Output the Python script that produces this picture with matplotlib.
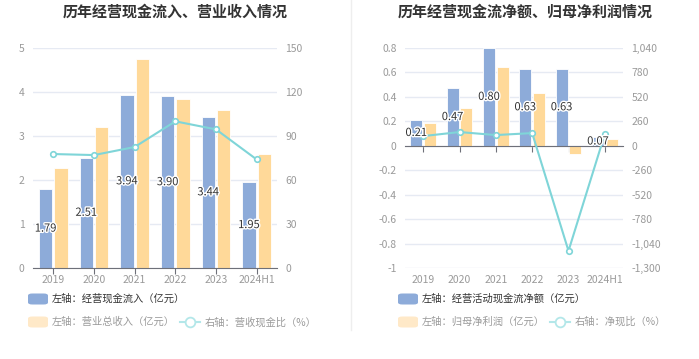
import matplotlib
matplotlib.use("Agg")
import matplotlib.pyplot as plt
import matplotlib.patheffects as pe
from matplotlib.patches import FancyBboxPatch
from matplotlib.lines import Line2D
import numpy as np

plt.rcParams['font.family'] = ['Noto Sans CJK SC', 'DejaVu Sans']

years = ["2019", "2020", "2021", "2022", "2023", "2024H1"]

# left chart
cash_in = [1.79, 2.51, 3.94, 3.90, 3.44, 1.95]
revenue = [2.27, 3.21, 4.74, 3.85, 3.60, 2.59]
cash_rev_ratio = [77.7, 77.0, 82.5, 100.0, 94.5, 74.0]
left_yticks = [0, 1, 2, 3, 4, 5]
left_y2ticks = [0, 30, 60, 90, 120, 150]

# right chart
net_cash = [0.21, 0.47, 0.80, 0.63, 0.63, 0.07]
net_profit = [0.186, 0.306, 0.645, 0.434, -0.066, 0.057]
net_cash_ratio = [103, 146, 114, 135, -1118, 125]
right_yticks = [-1, -0.8, -0.6, -0.4, -0.2, 0, 0.2, 0.4, 0.6, 0.8]
right_yticklabels = ["-1", "-0.8", "-0.6", "-0.4", "-0.2", "0", "0.2", "0.4", "0.6", "0.8"]
right_y2ticks = [-1300, -1040, -780, -520, -260, 0, 260, 520, 780, 1040]
right_y2ticklabels = ["-1,300", "-1,040", "-780", "-520", "-260", "0", "260", "520", "780", "1,040"]

titles = ["历年经营现金流入、营业收入情况", "历年经营现金流净额、归母净利润情况"]
legend_left = ["左轴：经营现金流入（亿元）", "左轴：营业总收入（亿元）", "右轴：营收现金比（%）"]
legend_right = ["左轴：经营活动现金流净额（亿元）", "左轴：归母净利润（亿元）", "右轴：净现比（%）"]

BLUE = "#8dabd9"
ORANGE = "#ffd999"
TEAL = "#7fd5d8"
GRID = "#e6eaf3"
TICK = "#9a9a9a"
AXIS = "#6e7079"

W, H = 699, 359
fig = plt.figure(figsize=(W / 100, H / 100), dpi=100)


def make_ax(x0, x1, y0, y1):
    return fig.add_axes([x0 / W, 1 - y1 / H, (x1 - x0) / W, (y1 - y0) / H])


def style(ax, ax2, yticks, ylabels, y2ticks, y2labels, ylim, y2lim):
    ax.set_ylim(*ylim)
    ax2.set_ylim(*y2lim)
    ax.set_yticks(yticks)
    ax.set_yticklabels(ylabels)
    ax2.set_yticks(y2ticks)
    ax2.set_yticklabels(y2labels)
    for a in (ax, ax2):
        for s in ("top", "left", "right"):
            a.spines[s].set_visible(False)
        a.tick_params(axis="y", length=0, labelsize=7.5, labelcolor=TICK, pad=6)
    ax2.spines["bottom"].set_visible(False)
    ax.grid(axis="y", color=GRID, linewidth=1)
    ax.set_axisbelow(True)
    ax.spines["bottom"].set_position(("data", 0))
    ax.spines["bottom"].set_color(AXIS)
    ax.set_xlim(-0.5, len(years) - 0.5)
    ax.set_xticks(range(len(years)))
    ax.tick_params(axis="x", length=4, color=AXIS, labelbottom=False)
    for i, y in enumerate(years):
        ax.text(i, -0.03, y, transform=ax.get_xaxis_transform(), ha="center", va="top",
                fontsize=7.5, color=TICK)


def draw(ax, ax2, blue, orange, ratio):
    x = np.arange(len(years))
    w = 0.33
    ax.bar(x - 0.19, blue, width=w, color=BLUE, edgecolor="white", linewidth=0.6, zorder=2)
    ax.bar(x + 0.19, orange, width=w, color=ORANGE, edgecolor="white", linewidth=0.6, zorder=2)
    ax2.plot(x, ratio, color=TEAL, linewidth=1.5, marker="o",
             markersize=4, markerfacecolor="white", markeredgecolor=TEAL,
             markeredgewidth=1.2, zorder=3)
    for i, v in enumerate(blue):
        ax2.text(i - 0.19, v / 2, f"{v:.2f}", ha="center", va="center", fontsize=8,
                 color="#333333", zorder=5, transform=ax.transData,
                 path_effects=[pe.withStroke(linewidth=2, foreground="white")])


def legend(x0, texts):
    y1, y2 = 299, 322
    p = FancyBboxPatch((x0 / W, 1 - (y1 + 5.5) / H), 20 / W, 11 / H,
                       boxstyle="round,pad=0,rounding_size=0.006", transform=fig.transFigure,
                       facecolor=BLUE, edgecolor="none")
    fig.add_artist(p)
    fig.text((x0 + 24) / W, 1 - y1 / H, texts[0], fontsize=7.4, color="#333333", va="center")
    p = FancyBboxPatch((x0 / W, 1 - (y2 + 5.5) / H), 20 / W, 11 / H,
                       boxstyle="round,pad=0,rounding_size=0.006", transform=fig.transFigure,
                       facecolor="#ffe9c8", edgecolor="none")
    fig.add_artist(p)
    fig.text((x0 + 24) / W, 1 - y2 / H, texts[1], fontsize=7.4, color="#9a9a9a", va="center")


# left chart
axL = make_ax(33, 277, 48, 268)
axL2 = axL.twinx()
style(axL, axL2, left_yticks, [str(v) for v in left_yticks], left_y2ticks,
      [str(v) for v in left_y2ticks], (0, 5), (0, 150))
draw(axL, axL2, cash_in, revenue, cash_rev_ratio)

# right chart
axR = make_ax(405, 623, 48, 268)
axR2 = axR.twinx()
style(axR, axR2, right_yticks, right_yticklabels, right_y2ticks, right_y2ticklabels,
      (-1, 0.8), (-1300, 1040))
draw(axR, axR2, net_cash, net_profit, net_cash_ratio)

# titles
fig.text(175 / W, 1 - 12 / H, titles[0], ha="center", va="center", fontsize=10.8,
         fontweight="bold", color="#333333")
fig.text(525 / W, 1 - 12 / H, titles[1], ha="center", va="center", fontsize=10.8,
         fontweight="bold", color="#333333")

# legends
legend(28, legend_left)
legend(398, legend_right)
for lx, txt in ((180, legend_left[2]), (550, legend_right[2])):
    fig.add_artist(Line2D([lx / W, (lx + 20) / W], [1 - 322 / H] * 2, color="#b3e7e9",
                          linewidth=1.5, transform=fig.transFigure))
    fig.add_artist(Line2D([(lx + 10) / W], [1 - 322 / H], color="#b3e7e9", marker="o",
                          markersize=7, markerfacecolor="white", markeredgewidth=1.3,
                          transform=fig.transFigure))
    fig.text((lx + 25) / W, 1 - 322 / H, txt, fontsize=7.4, color="#9a9a9a", va="center")

# divider
fig.add_artist(Line2D([351 / W] * 2, [1, 1 - 330 / H], color="#eeeeee", linewidth=1,
                      transform=fig.transFigure))

fig.savefig("out.png", dpi=100, facecolor="white")
